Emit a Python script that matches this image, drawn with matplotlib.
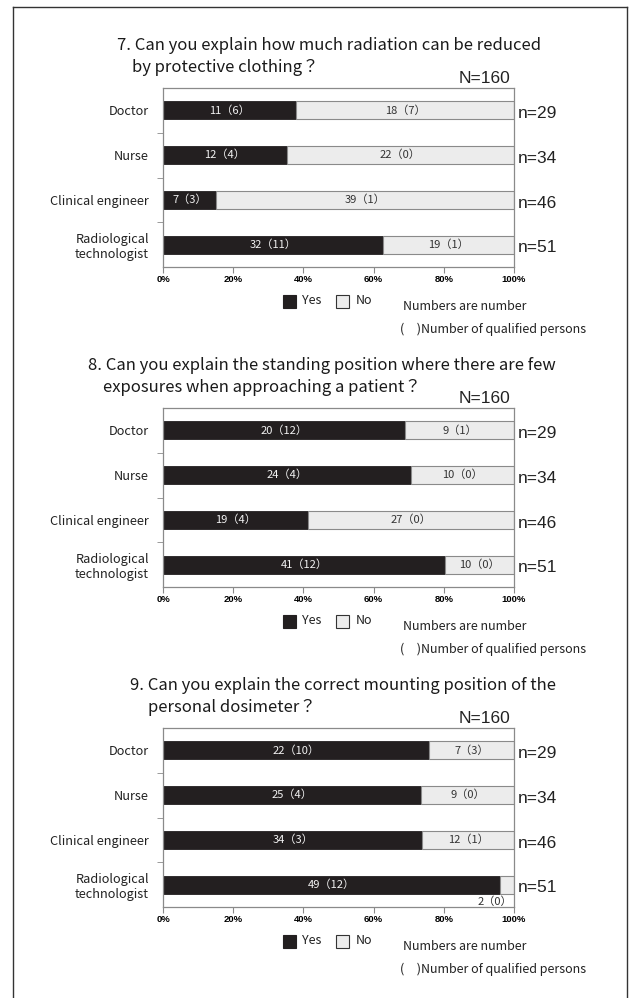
import matplotlib
matplotlib.use("Agg")
import matplotlib.pyplot as plt
from matplotlib.lines import Line2D
from matplotlib.patches import Rectangle

plt.rcParams['font.family'] = ['Noto Sans CJK JP', 'DejaVu Sans']

W, H = 630, 998

categories = ["Doctor", "Nurse", "Clinical engineer", "Radiological\ntechnologist"]
group_sizes = [29, 34, 46, 51]
total_n = 160

titles = [
    ("7. Can you explain how much radiation can be reduced", "by protective clothing？"),
    ("8. Can you explain the standing position where there are few", "exposures when approaching a patient？"),
    ("9. Can you explain the correct mounting position of the", "personal dosimeter？"),
]
title_x = [(117, 132), (88, 103), (130, 148)]

yes_counts = [
    [11, 12, 7, 32],
    [20, 24, 19, 41],
    [22, 25, 34, 49],
]
yes_qualified = [
    [6, 4, 3, 11],
    [12, 4, 4, 12],
    [10, 4, 3, 12],
]
no_counts = [
    [18, 22, 39, 19],
    [9, 10, 27, 10],
    [7, 9, 12, 2],
]
no_qualified = [
    [7, 0, 1, 1],
    [1, 0, 0, 0],
    [3, 0, 1, 0],
]

tick_values = [0, 0.2, 0.4, 0.6, 0.8, 1.0]
tick_labels = ["0%", "20%", "40%", "60%", "80%", "100%"]

YES_COLOR = "#231f20"
NO_COLOR = "#ececec"
EDGE = "#8a8a8a"
NARROW = ['Liberation Sans Narrow', 'Liberation Sans', 'DejaVu Sans']

fig = plt.figure(figsize=(W / 100, H / 100), dpi=100)


def fx(x):
    return x / W


def fy(y):
    return 1 - y / H


# outer frame
frame_kw = dict(color="#333333", linewidth=1.0, transform=fig.transFigure)
fig.add_artist(Line2D([fx(13), fx(13)], [fy(7), fy(1000)], **frame_kw))
fig.add_artist(Line2D([fx(13), fx(627)], [fy(7), fy(7)], **frame_kw))
fig.add_artist(Line2D([fx(627), fx(627)], [fy(7), fy(1000)], **frame_kw))

for k in range(3):
    off = 320 * k
    top, bottom = 88 + off, 267 + off
    ax = fig.add_axes([fx(163), fy(bottom), fx(514) - fx(163), (bottom - top) / H])

    ypos = list(range(len(categories)))
    yes_frac = [y / n for y, n in zip(yes_counts[k], group_sizes)]
    no_frac = [v / n for v, n in zip(no_counts[k], group_sizes)]

    ax.barh(ypos, yes_frac, height=0.4, color=YES_COLOR, edgecolor=YES_COLOR, linewidth=0.6)
    ax.barh(ypos, no_frac, left=yes_frac, height=0.4, color=NO_COLOR, edgecolor=EDGE, linewidth=0.8)

    for i in ypos:
        ax.text(yes_frac[i] / 2, i, f"{yes_counts[k][i]}（{yes_qualified[k][i]}）",
                ha="center", va="center", color="#f2f2f2", fontsize=8)
        if no_frac[i] < 0.08:
            ax.text(0.995, i + 0.37, f"{no_counts[k][i]}（{no_qualified[k][i]}）",
                    ha="right", va="center", color="#333333", fontsize=8)
        else:
            ax.text(yes_frac[i] + no_frac[i] / 2, i, f"{no_counts[k][i]}（{no_qualified[k][i]}）",
                    ha="center", va="center", color="#333333", fontsize=8)
        ax.text(1.012, i + 0.07, f"n={group_sizes[i]}", ha="left", va="center",
                fontsize=12.5, family=NARROW, color="#222222", transform=ax.get_yaxis_transform())

    ax.set_xlim(0, 1)
    ax.set_ylim(len(categories) - 0.5, -0.5)
    ax.set_xticks(tick_values)
    ax.set_xticklabels(tick_labels, fontsize=6.8, fontweight="bold", family=NARROW)
    ax.set_yticks(ypos)
    ax.set_yticklabels(categories, fontsize=9.2, multialignment="center", color="#222222")
    ax.set_yticks([0.5, 1.5, 2.5], minor=True)
    ax.tick_params(axis="y", which="major", length=0, pad=10)
    ax.tick_params(axis="y", which="minor", length=4, color=EDGE, direction="out")
    ax.tick_params(axis="x", length=4, color=EDGE, direction="out", pad=2)
    for s in ax.spines.values():
        s.set_color(EDGE)
        s.set_linewidth(0.9)

    ax.text(0.99, 1.012, f"N={total_n}", transform=ax.transAxes, ha="right", va="bottom",
            fontsize=12.5, family=NARROW, color="#222222")

    l1, l2 = titles[k]
    x1, x2 = title_x[k]
    fig.text(fx(x1), fy(45 + off), l1, ha="left", va="center", fontsize=12, color="#1a1a1a")
    fig.text(fx(x2), fy(68 + off), l2, ha="left", va="center", fontsize=12, color="#1a1a1a")

    # legend swatches
    fig.add_artist(Rectangle((fx(283), fy(308 + off)), 13 / W, 13 / H, transform=fig.transFigure,
                             facecolor=YES_COLOR, edgecolor=YES_COLOR, linewidth=0.8))
    fig.text(fx(302), fy(300 + off), "Yes", ha="left", va="center", fontsize=9, color="#222222")
    fig.add_artist(Rectangle((fx(336), fy(308 + off)), 13 / W, 13 / H, transform=fig.transFigure,
                             facecolor=NO_COLOR, edgecolor="#333333", linewidth=0.8))
    fig.text(fx(356), fy(300 + off), "No", ha="left", va="center", fontsize=9, color="#222222")
    fig.text(fx(403), fy(306 + off), "Numbers are number", ha="left", va="center",
             fontsize=9, color="#222222")
    fig.text(fx(400), fy(329 + off), "(\u3000)Number of qualified persons", ha="left", va="center",
             fontsize=9, color="#222222")

fig.savefig("out.png", dpi=100)
